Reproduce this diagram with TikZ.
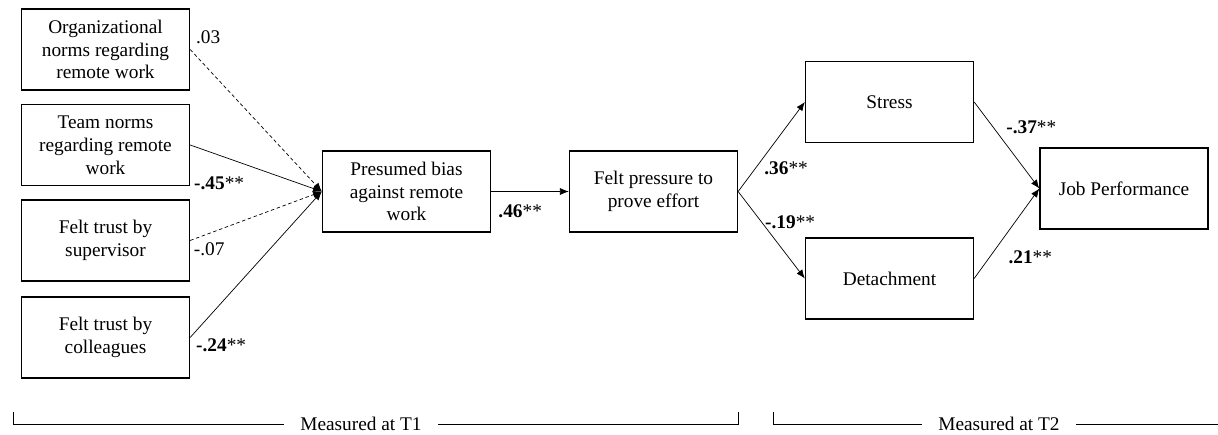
\documentclass[tikz,border=0pt]{standalone}
\usepackage{fontspec}
\setmainfont{Liberation Serif}
\usetikzlibrary{positioning,arrows.meta}

\tikzset{
	var/.style={draw, line width=0.8pt, minimum width=3.36cm, minimum height=1.62cm,
		align=center, inner sep=1pt, font=\fontsize{11}{13}\selectfont},
	coef/.style={inner sep=0pt, anchor=center, font=\fontsize{11}{13}\selectfont},
	period/.style={inner sep=0pt, inner xsep=0.33cm, font=\fontsize{11}{13}\selectfont},
	weak/.style={dash pattern=on 2pt off 1.5pt}
}

\begin{document}
\begin{tikzpicture}[x=0.02cm,y=-0.02cm,node distance=2cm,on grid,>={Latex[length=5pt,width=4pt]},line width=0.4pt]
		\useasboundingbox (0,0) rectangle (1218,434);
		% predictors
		\node[var] (org) at (105.5,49.5) {Organizational\\norms regarding\\remote work} ;
		\node[var] (team) [below=1.91cm of org] {Team norms\\regarding remote\\work} ;
		\node[var] (sup) [below=1.91cm of team] {Felt trust by\\supervisor} ;
		\node[var] (col) [below=1.94cm of sup] {Felt trust by\\colleagues} ;
		% mediators and outcome
		\node[var] (bias) at (406.5,191.5) {Presumed bias\\against remote\\work} ;
		\node[var] (press) [right=4.94cm of bias] {Felt pressure to\\prove effort} ;
		\node[var] (stress) at (889.5,102) {Stress} ;
		\node[var] (detach) [below=3.53cm of stress] {Detachment} ;
		\node[var] (job) at (1124,188.5) {Job Performance} ;
		\path[->]
			(org.east) edge [weak] (bias.west)
			(team.east) edge (bias.west)
			(sup.east) edge [weak] (bias.west)
			(col.east) edge (bias.west)
			(bias) edge (press)
			(press.east) edge (stress.west)
			(press.east) edge (detach.west)
			(stress.east) edge (job.west)
			(detach.east) edge (job.west) ;
		% coefficients
		\node[coef] (c1) at ([shift={(18,-12.5)}]org.east) {.03} ;
		\node[coef] (c2) at ([shift={(29,-3)}]team.south east) {\textbf{-.45}**} ;
		\node[coef] (c3) at ([shift={(19,8.5)}]sup.east) {-.07} ;
		\node[coef] (c4) at ([shift={(31,7.5)}]col.east) {\textbf{-.24}**} ;
		\node[coef] (c5) at ([shift={(29,19.5)}]bias.east) {\textbf{.46}**} ;
		\node[coef] (c6) at ([shift={(48,-23.5)}]press.east) {\textbf{.36}**} ;
		\node[coef] (c7) at ([shift={(52,30.5)}]press.east) {\textbf{-.19}**} ;
		\node[coef] (c8) at ([shift={(-8,-61.5)}]job.west) {\textbf{-.37}**} ;
		\node[coef] (c9) at ([shift={(-9,68.5)}]job.west) {\textbf{.21}**} ;
		% measurement brackets
		\node[period] (t1) at (361,424) {Measured at T1} ;
		\node[period] (t2) at (999,424) {Measured at T2} ;
		\coordinate (t1a) at (13,412) ;
		\coordinate (t1b) at (738,412) ;
		\coordinate (t2a) at (773,412) ;
		\coordinate (t2b) at (1218,424) ;
		\draw (t1a) |- (t1.west) ;
		\draw (t1.east) -| (t1b) ;
		\draw (t2a) |- (t2.west) ;
		\draw (t2.east) -- (t2b) ;
	\end{tikzpicture}
\end{document}
